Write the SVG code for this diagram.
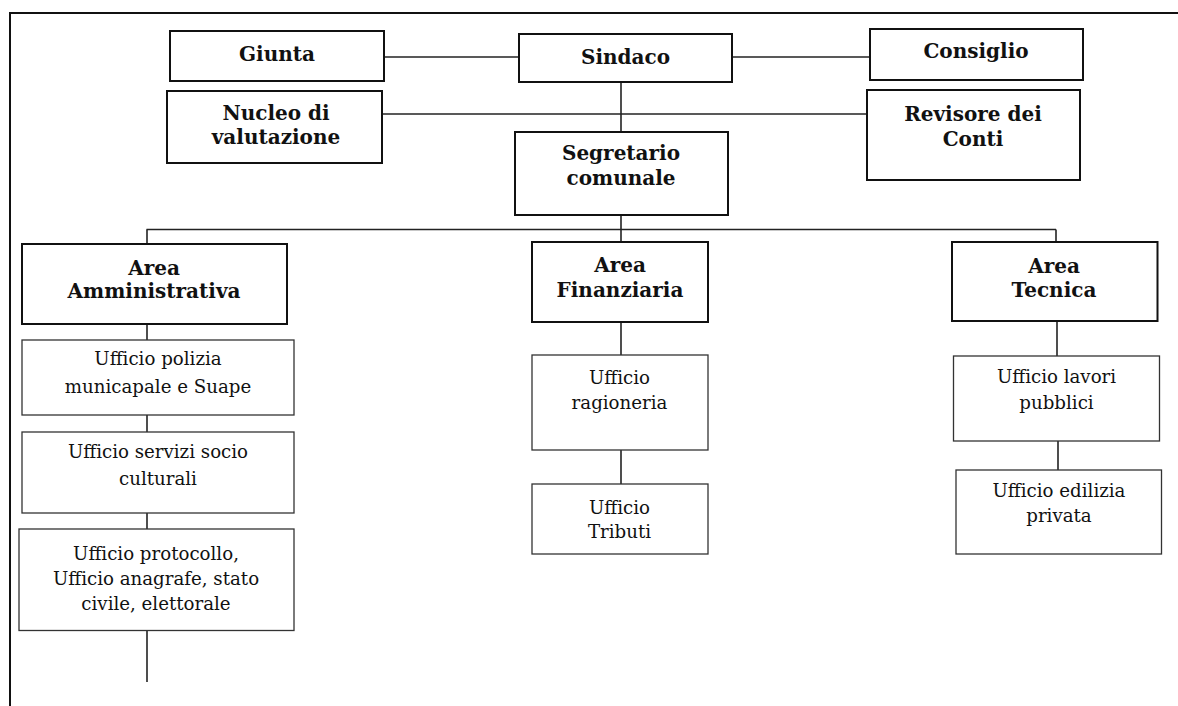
<svg xmlns="http://www.w3.org/2000/svg" width="1178" height="706" viewBox="0 0 1178 706">
<style>
.bg{fill:#ffffff}
.frame{stroke:#111;stroke-width:2;fill:none}
.bx{fill:#fff;stroke:#111;stroke-width:2}
.sx{fill:#fff;stroke:#333;stroke-width:1.3}
.c{stroke:#222;stroke-width:1.6;fill:none}
.hb{font-family:"DejaVu Serif","Liberation Serif",serif;font-weight:bold;font-size:20px;fill:#111;text-anchor:middle}
.tr{font-family:"DejaVu Serif","Liberation Serif",serif;font-size:18.2px;fill:#111;text-anchor:middle}
</style>
<rect class="bg" x="0" y="0" width="1178" height="706"/>
<g id="frame">
<line class="frame" x1="9" y1="13" x2="1178" y2="13"/>
<line class="frame" x1="10" y1="13" x2="10" y2="706"/>
</g>
<g id="connectors">
<line class="c" x1="384" y1="57" x2="519" y2="57"/>
<line class="c" x1="732" y1="57" x2="870" y2="57"/>
<line class="c" x1="382" y1="114" x2="867" y2="114"/>
<line class="c" x1="621" y1="82" x2="621" y2="132"/>
<line class="c" x1="621" y1="215" x2="621" y2="229.5"/>
<line class="c" x1="146.5" y1="229.5" x2="1056" y2="229.5"/>
<line class="c" x1="147" y1="229.5" x2="147" y2="244"/>
<line class="c" x1="621" y1="229.5" x2="621" y2="242"/>
<line class="c" x1="1056" y1="229.5" x2="1056" y2="242"/>
<line class="c" x1="147" y1="324" x2="147" y2="340"/>
<line class="c" x1="147" y1="415" x2="147" y2="432"/>
<line class="c" x1="147" y1="513" x2="147" y2="529"/>
<line class="c" x1="147" y1="631" x2="147" y2="682"/>
<line class="c" x1="621" y1="322" x2="621" y2="355"/>
<line class="c" x1="621" y1="450" x2="621" y2="484"/>
<line class="c" x1="1057" y1="321" x2="1057" y2="356"/>
<line class="c" x1="1058" y1="441" x2="1058" y2="470"/>
</g>
<g id="giunta">
<rect class="bx" x="170" y="31" width="214" height="50"/>
<text class="hb" x="277" y="61">Giunta</text>
</g>
<g id="sindaco">
<rect class="bx" x="519" y="34" width="213" height="48"/>
<text class="hb" x="625.5" y="64">Sindaco</text>
</g>
<g id="consiglio">
<rect class="bx" x="870" y="29" width="213" height="51"/>
<text class="hb" x="976" y="58">Consiglio</text>
</g>
<g id="nucleo">
<rect class="bx" x="167" y="91" width="215" height="72"/>
<text class="hb" x="276" y="120">Nucleo di</text>
<text class="hb" x="276" y="144">valutazione</text>
</g>
<g id="revisore">
<rect class="bx" x="867" y="90" width="213" height="90"/>
<text class="hb" x="973" y="121">Revisore dei</text>
<text class="hb" x="973" y="146">Conti</text>
</g>
<g id="segretario">
<rect class="bx" x="515" y="132" width="213" height="83"/>
<text class="hb" x="621" y="160">Segretario</text>
<text class="hb" x="621" y="185">comunale</text>
</g>
<g id="area-amministrativa">
<rect class="bx" x="22" y="244" width="265" height="80"/>
<text class="hb" x="154" y="275">Area</text>
<text class="hb" x="154" y="298">Amministrativa</text>
</g>
<g id="area-finanziaria">
<rect class="bx" x="532" y="242" width="176" height="80"/>
<text class="hb" x="620" y="272">Area</text>
<text class="hb" x="620" y="296.5">Finanziaria</text>
</g>
<g id="area-tecnica">
<rect class="bx" x="952" y="242" width="205.5" height="79"/>
<text class="hb" x="1054" y="273">Area</text>
<text class="hb" x="1054" y="296.5">Tecnica</text>
</g>
<g id="uff-polizia">
<rect class="sx" x="22" y="340" width="272" height="75"/>
<text class="tr" x="158" y="365">Ufficio polizia</text>
<text class="tr" x="158" y="393">municapale e Suape</text>
</g>
<g id="uff-servizi">
<rect class="sx" x="22" y="432" width="272" height="81"/>
<text class="tr" x="158" y="458">Ufficio servizi socio</text>
<text class="tr" x="158" y="485">culturali</text>
</g>
<g id="uff-protocollo">
<rect class="sx" x="19" y="529" width="275" height="101.5"/>
<text class="tr" x="156" y="560">Ufficio protocollo,</text>
<text class="tr" x="156" y="585">Ufficio anagrafe, stato</text>
<text class="tr" x="156" y="610">civile, elettorale</text>
</g>
<g id="uff-ragioneria">
<rect class="sx" x="532" y="355" width="176" height="95"/>
<text class="tr" x="619.5" y="384">Ufficio</text>
<text class="tr" x="619.5" y="409">ragioneria</text>
</g>
<g id="uff-tributi">
<rect class="sx" x="532" y="484" width="176" height="70"/>
<text class="tr" x="619.5" y="514">Ufficio</text>
<text class="tr" x="619.5" y="538">Tributi</text>
</g>
<g id="uff-lavori">
<rect class="sx" x="953.5" y="356" width="206" height="85"/>
<text class="tr" x="1056.5" y="383">Ufficio lavori</text>
<text class="tr" x="1056.5" y="409">pubblici</text>
</g>
<g id="uff-edilizia">
<rect class="sx" x="956" y="470" width="205.5" height="84"/>
<text class="tr" x="1059" y="496.5">Ufficio edilizia</text>
<text class="tr" x="1059" y="521.5">privata</text>
</g>
</svg>
